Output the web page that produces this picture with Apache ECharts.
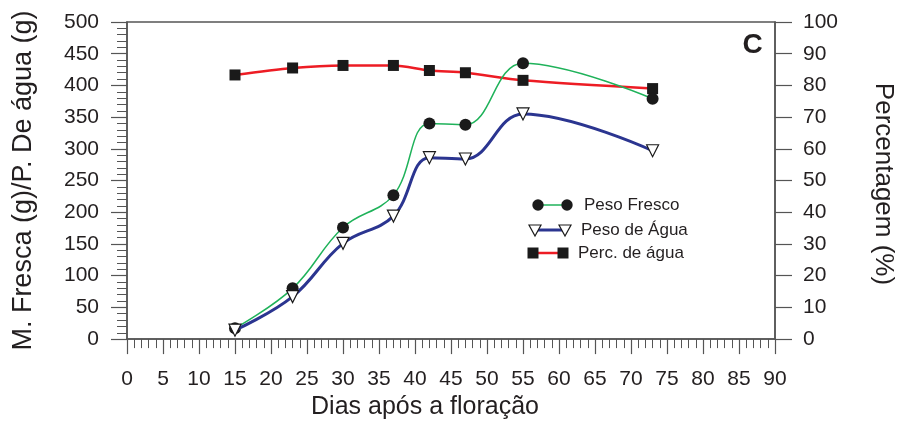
<!DOCTYPE html>
<html><head><meta charset="utf-8">
<script src="https://cdn.jsdelivr.net/npm/echarts@6/dist/echarts.min.js"></script>
<style>html,body{margin:0;padding:0;background:#fff}#c{width:898px;height:425px}</style>
</head><body><div id="c"></div>
<script>
const days = [15, 23, 30, 37, 42, 47, 55, 73];
const pesoFresco = [17, 80, 176, 227, 340, 338, 435, 379];
const pesoAgua = [14, 67, 151, 194, 286, 284, 355, 297];
const percAgua = [83.3, 85.5, 86.3, 86.3, 84.7, 84.0, 81.6, 79.0];
const seriesNames = ['Peso Fresco', 'Peso de Água', 'Perc. de água'];

const pairs = (xs, ys) => xs.map((x, i) => [x, ys[i]]);
const FONT = 'Liberation Sans, Arial, sans-serif';
const TXT = '#231f20';
const AX = '#555';
const GREEN = '#1fb25a', BLUE = '#2b3590', RED = '#ed1c24';

const chart = echarts.init(document.getElementById('c'), null, {renderer: 'canvas'});

// custom legend (marker - line - marker)
const lg = [];
const rows = [
  {y: 205, x1: 538, x2: 567, tx: 584, color: GREEN, lw: 1.5, sym: 'circle'},
  {y: 230, x1: 535, x2: 565, tx: 581, color: BLUE, lw: 3, sym: 'tri'},
  {y: 253, x1: 533, x2: 563, tx: 578, color: RED, lw: 2.5, sym: 'square'}
];
rows.forEach((r, i) => {
  lg.push({type: 'line', shape: {x1: r.x1, y1: r.y, x2: r.x2, y2: r.y}, style: {stroke: r.color, lineWidth: r.lw}, z: 10});
  [r.x1, r.x2].forEach(x => {
    if (r.sym === 'circle') lg.push({type: 'circle', shape: {cx: x, cy: r.y, r: 5.7}, style: {fill: '#1a1a1a'}, z: 11});
    else if (r.sym === 'square') lg.push({type: 'rect', shape: {x: x - 5.5, y: r.y - 5.5, width: 11, height: 11}, style: {fill: '#1a1a1a'}, z: 11});
    else lg.push({type: 'polygon', shape: {points: [[x - 6, r.y - 5], [x + 6, r.y - 5], [x, r.y + 6]]}, style: {fill: '#fff', stroke: '#1a1a1a', lineWidth: 1.2}, z: 11});
  });
  lg.push({type: 'text', x: r.tx, y: r.y, style: {text: seriesNames[i], font: '17px ' + FONT, fill: TXT, textVerticalAlign: 'middle', textAlign: 'left'}, z: 11});
});
lg.push({type: 'text', x: 752.5, y: 45, style: {text: 'C', font: 'bold 28px ' + FONT, fill: TXT, textAlign: 'center', textVerticalAlign: 'middle'}});
lg.push({type: 'text', x: 883, y: 184, rotation: -Math.PI / 2, style: {text: 'Percentagem (%)', font: '26px ' + FONT, fill: TXT, textAlign: 'center', textVerticalAlign: 'middle'}});

chart.setOption({
  animation: false,
  backgroundColor: '#fff',
  grid: {left: 127, right: 123, top: 22, bottom: 82, containLabel: false,
    show: true, borderColor: AX, borderWidth: 1.5, backgroundColor: 'transparent'},
  xAxis: {
    type: 'value', min: 0, max: 90, interval: 5,
    name: 'Dias após a floração', nameLocation: 'middle', nameGap: 55,
    nameTextStyle: {fontSize: 25, color: TXT, fontFamily: FONT, padding: [0, 52, 0, 0]},
    axisLine: {onZero: false, lineStyle: {color: AX, width: 1.5}},
    axisTick: {length: 15, lineStyle: {color: AX, width: 1.2}},
    minorTick: {show: true, splitNumber: 5, length: 9, lineStyle: {color: AX, width: 1}},
    axisLabel: {fontSize: 21, color: TXT, fontFamily: FONT, margin: 30},
    splitLine: {show: false}
  },
  yAxis: [{
    type: 'value', min: 0, max: 500, interval: 50,
    name: 'M. Fresca (g)/P. De água (g)', nameLocation: 'middle', nameGap: 90,
    nameTextStyle: {fontSize: 27, color: TXT, fontFamily: FONT},
    axisLine: {show: true, lineStyle: {color: AX, width: 1.5}},
    axisTick: {length: 16, lineStyle: {color: AX, width: 1.2}},
    minorTick: {show: true, splitNumber: 5, length: 10, lineStyle: {color: AX, width: 1}},
    axisLabel: {fontSize: 21, color: TXT, fontFamily: FONT, margin: 28},
    splitLine: {show: false}
  }, {
    type: 'value', min: 0, max: 100, interval: 10, position: 'right',
    axisLine: {show: true, lineStyle: {color: AX, width: 1.5}},
    axisTick: {length: 17, lineStyle: {color: AX, width: 1.2}},
    axisLabel: {fontSize: 21, color: TXT, fontFamily: FONT, margin: 28},
    splitLine: {show: false}
  }],
  series: [{
    name: seriesNames[0], type: 'line', yAxisIndex: 0, smooth: 0.4,
    data: pairs(days, pesoFresco),
    symbol: 'circle', symbolSize: 12,
    itemStyle: {color: '#1a1a1a'},
    lineStyle: {color: GREEN, width: 1.5}, z: 3
  }, {
    name: seriesNames[1], type: 'line', yAxisIndex: 0, smooth: 0.4,
    data: pairs(days, pesoAgua),
    symbol: 'triangle', symbolRotate: 180, symbolSize: 12,
    itemStyle: {color: '#fff', borderColor: '#1a1a1a', borderWidth: 1.2},
    lineStyle: {color: BLUE, width: 3}, z: 4
  }, {
    name: seriesNames[2], type: 'line', yAxisIndex: 1, smooth: 0.3,
    data: pairs(days, percAgua),
    symbol: 'rect', symbolSize: 11,
    itemStyle: {color: '#1a1a1a'},
    lineStyle: {color: RED, width: 2.5}, z: 2
  }],
  graphic: lg
});
</script></body></html>
